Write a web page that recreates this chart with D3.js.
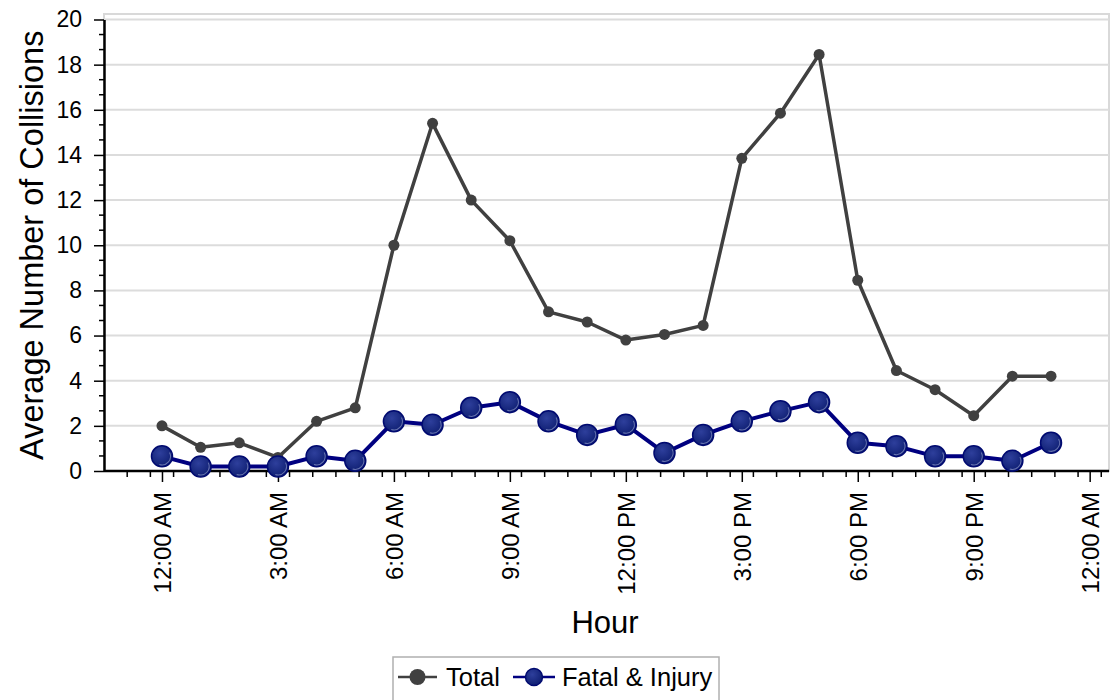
<!DOCTYPE html>
<html><head><meta charset="utf-8">
<script src="https://cdn.jsdelivr.net/npm/d3@7"></script>
<style>body{margin:0;background:#fff;}svg{display:block;font-family:Arial,"Liberation Sans",sans-serif;}</style>
</head><body><svg id="c" width="1113" height="700"></svg>
<script>
const hours = d3.range(0, 24);
const totalValues = [2.0,1.05,1.25,0.6,2.2,2.8,10.0,15.4,12.0,10.2,7.05,6.6,5.8,6.05,6.45,13.85,15.85,18.45,8.45,4.45,3.6,2.45,4.2,4.2];
const fatalInjuryValues = [0.65,0.2,0.2,0.2,0.65,0.45,2.2,2.05,2.8,3.05,2.2,1.6,2.05,0.8,1.6,2.2,2.65,3.05,1.25,1.1,0.65,0.65,0.45,1.25];
const xTickHours = [0,3,6,9,12,15,18,21,24];
const xTickLabels = ["12:00 AM","3:00 AM","6:00 AM","9:00 AM","12:00 PM","3:00 PM","6:00 PM","9:00 PM","12:00 AM"];
const yTicks = [0,2,4,6,8,10,12,14,16,18,20];
const seriesNames = ["Total","Fatal & Injury"];

const svg = d3.select("#c");
const L=104, R=1109, T=14, B=471;
const x = d3.scaleLinear().domain([-1.5,24.5]).range([L,R]);
const y = d3.scaleLinear().domain([0,20]).range([B,19.5]);

const defs = svg.append("defs");
const g = defs.append("radialGradient").attr("id","fiGrad").attr("cx","40%").attr("cy","35%").attr("r","65%");
g.append("stop").attr("offset","0%").attr("stop-color","#2e3f9c");
g.append("stop").attr("offset","100%").attr("stop-color","#0f1f72");

// frame
svg.append("rect").attr("x",L).attr("y",T).attr("width",R-L).attr("height",B-T).attr("fill","none").attr("stroke","#d9d9d9").attr("stroke-width",2);
// gridlines
svg.append("g").selectAll("line").data(yTicks.filter(d=>d>0)).join("line")
  .attr("x1",L).attr("x2",R).attr("y1",d=>y(d)).attr("y2",d=>y(d)).attr("stroke","#dcdcdc").attr("stroke-width",2);

// y axis
const yMinor = d3.range(0,20.01,2/3).filter(v=>Math.abs(v/2-Math.round(v/2))>0.01);
svg.append("g").selectAll("line").data(yMinor).join("line")
  .attr("x1",L-5).attr("x2",L).attr("y1",d=>y(d)).attr("y2",d=>y(d)).attr("stroke","#000").attr("stroke-width",1.5);
const yAxis = svg.append("g").attr("transform",`translate(${L},0)`)
  .call(d3.axisLeft(y).tickValues(yTicks).tickSize(10).tickSizeOuter(0).tickPadding(12));
yAxis.select(".domain").attr("stroke","#000").attr("stroke-width",2.5);
yAxis.selectAll(".tick line").attr("stroke","#000").attr("stroke-width",1.5);
yAxis.selectAll("text").attr("font-size",23).attr("fill","#000").attr("font-family","Arial, 'Liberation Sans', sans-serif");

// x axis
const xMinor = d3.range(-1.5,24.5,0.6).map(v=>+v.toFixed(2)).filter(v=>Math.abs(v/3-Math.round(v/3))>0.01 && v>-1.45);
svg.append("g").selectAll("line").data(xMinor).join("line")
  .attr("x1",d=>x(d)).attr("x2",d=>x(d)).attr("y1",B).attr("y2",B+6).attr("stroke","#000").attr("stroke-width",1.5);
const xAxis = svg.append("g").attr("transform",`translate(0,${B})`)
  .call(d3.axisBottom(x).tickValues(xTickHours).tickFormat((d,i)=>xTickLabels[i]).tickSize(11).tickSizeOuter(0));
xAxis.select(".domain").attr("stroke","#000").attr("stroke-width",2.5).attr("d",`M${L},0H${R}`);
xAxis.selectAll(".tick line").attr("stroke","#000").attr("stroke-width",1.5);
xAxis.selectAll("text").attr("font-size",24).attr("fill","#000").attr("font-family","Arial, 'Liberation Sans', sans-serif")
  .attr("transform","rotate(-90)").attr("text-anchor","end").attr("x",-21).attr("y",0).attr("dy","0.35em");

// titles
svg.append("text").attr("x",605).attr("y",633).attr("text-anchor","middle").attr("font-size",31).text("Hour");
svg.append("text").attr("transform",`translate(43,${(B+19.5)/2}) rotate(-90)`).attr("text-anchor","middle").attr("font-size",32.5).text("Average Number of Collisions");

// lines
const line = d3.line().x((d,i)=>x(hours[i])).y(d=>y(d));
svg.append("path").datum(totalValues).attr("d",line).attr("fill","none").attr("stroke","#404040").attr("stroke-width",3.5).attr("stroke-linejoin","round");
svg.append("g").selectAll("circle").data(totalValues).join("circle")
  .attr("cx",(d,i)=>x(hours[i])).attr("cy",d=>y(d)).attr("r",5.5).attr("fill","#404040");

svg.append("path").datum(fatalInjuryValues).attr("d",line).attr("fill","none").attr("stroke","#000080").attr("stroke-width",4).attr("stroke-linejoin","round");
const fi = svg.append("g").selectAll("g").data(fatalInjuryValues).join("g")
  .attr("transform",(d,i)=>`translate(${x(hours[i])},${y(d)})`);
fi.append("circle").attr("r",10.5).attr("fill","url(#fiGrad)").attr("stroke","#000a70").attr("stroke-width",1.5);
fi.append("path").attr("d",d3.arc()({innerRadius:8,outerRadius:9,startAngle:Math.PI*0.35,endAngle:Math.PI*1.1})).attr("fill","#8a94c8").attr("opacity",0.7);

// legend
const lg = svg.append("g");
lg.append("rect").attr("x",393).attr("y",657).attr("width",326).attr("height",44).attr("fill","#fff").attr("stroke","#b0b0b0").attr("stroke-width",1.5);
const items = [
  {name:seriesNames[0], x0:398, x1:437, tx:446, color:"#404040"},
  {name:seriesNames[1], x0:513, x1:555, tx:562, color:"#000080"}
];
const ly = 677;
items.forEach((it,k)=>{
  lg.append("line").attr("x1",it.x0).attr("x2",it.x1).attr("y1",ly).attr("y2",ly).attr("stroke",it.color).attr("stroke-width",2.5);
  if(k===0){
    lg.append("circle").attr("cx",(it.x0+it.x1)/2).attr("cy",ly).attr("r",8).attr("fill","#404040");
  } else {
    lg.append("circle").attr("cx",(it.x0+it.x1)/2).attr("cy",ly).attr("r",8.5).attr("fill","url(#fiGrad)").attr("stroke","#000a70").attr("stroke-width",1.5);
  }
  lg.append("text").attr("x",it.tx).attr("y",ly+9).attr("font-size",25.5).attr("fill","#000").text(it.name);
});
</script></body></html>
